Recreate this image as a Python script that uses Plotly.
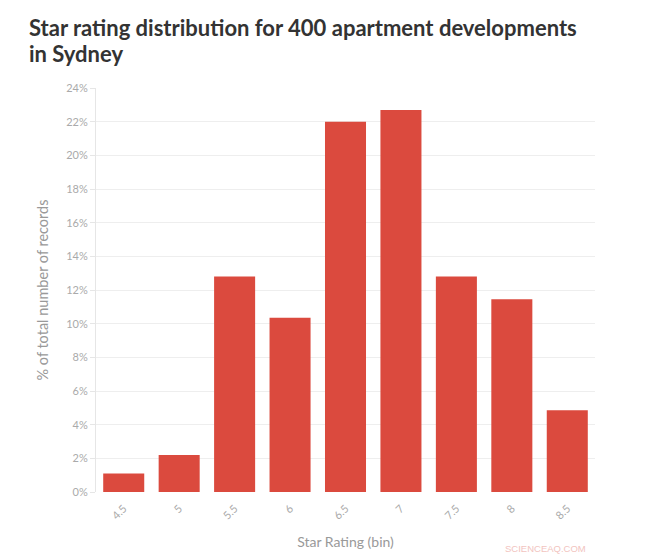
import plotly.graph_objects as go

categories = ["4.5", "5", "5.5", "6", "6.5", "7", "7.5", "8", "8.5"]
values = [1.1, 2.2, 12.8, 10.35, 22.0, 22.7, 12.8, 11.45, 4.85]
y_ticks = [0, 2, 4, 6, 8, 10, 12, 14, 16, 18, 20, 22, 24]
y_tick_labels = [f"{v}%" for v in y_ticks]
title_lines = ["Star rating distribution for 400 apartment developments", "in Sydney"]

font = "Lato"
W, H = 647, 551  # page body has an 8px margin inside the 655x559 window
fig = go.Figure(go.Bar(
    x=categories, y=values, marker_color="#db4a3e", marker_line_width=0,
    hovertemplate="%{x}: %{y}%<extra></extra>",
))
fig.update_layout(
    width=W, height=H,
    margin=dict(l=88, r=60, t=80, b=67),
    paper_bgcolor="white", plot_bgcolor="white",
    bargap=0.26,
    font=dict(family=font, color="#aaaaaa"),
    showlegend=False,
)
fig.update_xaxes(
    type="category", tickangle=-45, tickfont=dict(size=11, color="#aaaaaa"),
    showgrid=False, showline=False, ticks="", ticklabelstandoff=7,
    title=dict(text="Star Rating (bin)", font=dict(size=14, color="#999999"), standoff=16),
)
fig.update_yaxes(
    range=[0, 24], tickvals=y_ticks, ticktext=y_tick_labels,
    tickfont=dict(size=11, color="#aaaaaa"),
    showgrid=True, gridcolor="#eeeeee", gridwidth=1,
    showline=True, linecolor="#e6e6e6", linewidth=1,
    ticks="outside", ticklen=5, tickcolor="#e6e6e6",
    zeroline=False,
    title=dict(text="% of total number of records", font=dict(size=14.5, color="#999999"), standoff=14),
)
for i, line in enumerate(title_lines):
    fig.add_annotation(
        text=f"<b>{line}</b>", xref="paper", yref="paper",
        x=-(88 - 19) / (W - 88 - 60), y=1 + (80 - (19.5 + 26 * i)) / (H - 80 - 67),
        xanchor="left", yanchor="middle", showarrow=False,
        font=dict(family=font, size=22, color="#333333"),
    )
fig.add_annotation(
    text="SCIENCEAQ.COM", xref="paper", yref="paper", x=0.986, y=-0.141,
    xanchor="right", yanchor="middle", showarrow=False,
    font=dict(family="Liberation Sans", size=9.5, color="#f2c4c0"),
)
fig.write_html("out.html")
